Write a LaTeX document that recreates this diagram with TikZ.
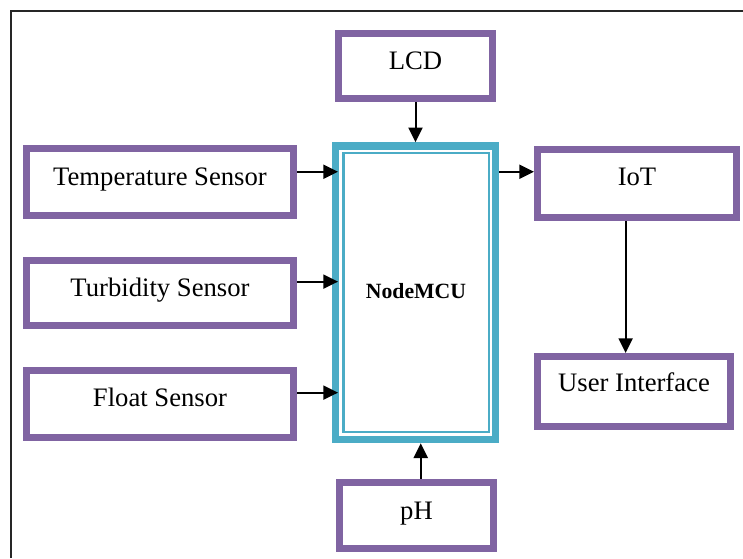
\documentclass[tikz,border=0pt]{standalone}
\usepackage{fontspec}
\setmainfont{Liberation Serif}
\usetikzlibrary{arrows.meta}
\definecolor{boxpurple}{HTML}{8064A2}
\definecolor{boxcyan}{HTML}{4BACC6}
\newcommand\mybox[6]{\node[#6, minimum width={(#4-#2-6.6)*0.75pt}, minimum height={(#5-#3-6.6)*0.75pt}] (#1) at ({(#2+#4)/2},{(#3+#5)/2}) {};}
\begin{document}
\begin{tikzpicture}[x=0.75pt,y=-0.75pt,
  pbox/.style={draw=boxpurple, line width=5pt, fill=white, inner sep=0pt},
  cbox/.style={draw=boxcyan, line width=5.5pt, fill=white, inner sep=0pt},
  lbl/.style={anchor=base, font=\fontsize{20}{24}\selectfont, inner sep=0pt},
  arr/.style={line width=1.5pt, -{Triangle[length=11pt,width=10.5pt]}}]
\useasboundingbox (0,0) rectangle (743,558);
\draw[line width=1.5pt, black!85] (11,558) -- (11,11.3) -- (743,11.3);

% boxes
\mybox{lcd}{335}{30}{496}{102}{pbox}
\mybox{temp}{23}{145}{297}{219}{pbox}
\mybox{turb}{23}{257}{297}{329}{pbox}
\mybox{float}{23}{367}{297}{441}{pbox}
\mybox{iot}{534}{146}{740}{221}{pbox}
\mybox{ui}{534}{353}{734}{430}{pbox}
\mybox{ph}{336}{479}{497}{552}{pbox}
\node[cbox, minimum width=120pt, minimum height=220.3pt] (mcu) at (415.65,292.8) {};
\draw[boxcyan, line width=1.8pt] (343.5,153) rectangle (488.7,432);

% labels
\node[lbl] (lcdt) at (415.5,69) {LCD};
\node[lbl] (tempt) at (160,185) {Temperature Sensor};
\node[lbl] (turbt) at (160,296) {Turbidity Sensor};
\node[lbl] (floatt) at (160,406.7) {Float Sensor};
\node[lbl] (iott) at (637,185) {IoT};
\node[lbl] (uit) at (634,391.7) {User Interface};
\node[lbl] (pht) at (416.5,519) {pH};
\node[anchor=base, inner sep=0pt, font=\fontsize{16.3}{19}\selectfont\bfseries] (mcut) at (416,298) {NodeMCU};

% connectors
\draw[arr] (lcd.south) -- (lcd.south |- mcu.north);
\draw[arr, shorten >=-4.5pt] ([yshift=7.7pt]temp.east) -- ([yshift=7.7pt]temp.east -| mcu.west);
\draw[arr, shorten >=-4.5pt] ([yshift=8.5pt]turb.east) -- ([yshift=8.5pt]turb.east -| mcu.west);
\draw[arr, shorten >=-4.5pt] ([yshift=8.5pt]float.east) -- ([yshift=8.5pt]float.east -| mcu.west);
\draw[arr] ([yshift=8.8pt]iot.west -| mcu.east) -- ([yshift=8.8pt]iot.west);
\draw[arr] ([xshift=-8.5pt]iot.south) -- ([xshift=-8.5pt]iot.south |- ui.north);
\draw[arr] ([xshift=3.2pt]ph.north) -- ([xshift=3.2pt]ph.north |- mcu.south);
\end{tikzpicture}
\end{document}
